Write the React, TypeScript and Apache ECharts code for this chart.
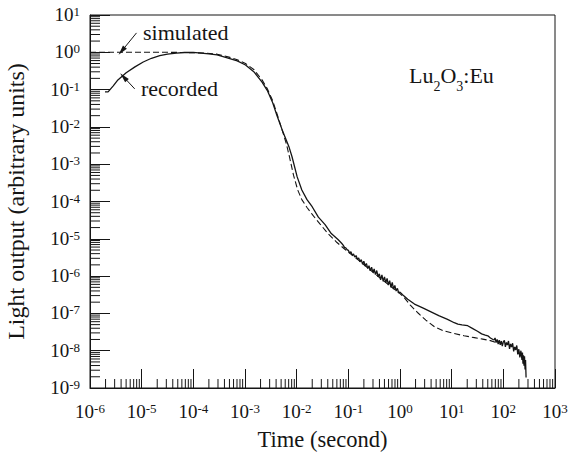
import React, { useEffect, useRef } from 'react';
import * as echarts from 'echarts';

const FONT = 'Liberation Serif';
const INK = '#151515';

// Axis decades (exponents of 10) used as tick labels
const xExponents = [-6, -5, -4, -3, -2, -1, 0, 1, 2, 3];
const yExponents = [-9, -8, -7, -6, -5, -4, -3, -2, -1, 0, 1];
const minorMultipliers = [2, 3, 4, 5, 6, 7, 8, 9];

// Recorded light output: log10(time / s) and log10(output)
const recordedLogTime = [
  -5.71, -5.65, -5.55, -5.46, -5.30, -5.13, -4.97, -4.81, -4.65, -4.50, -4.33, -4.17, -4.00,
  -3.85, -3.70, -3.54, -3.31, -3.15, -2.99, -2.83, -2.67, -2.57, -2.47, -2.38, -2.28, -2.15,
  -2.09, -1.99, -1.90, -1.80, -1.70, -1.58, -1.45, -1.33, -1.20, -1.13,
  -1.10, -1.075, -1.05, -1.025, -1.00, -0.975, -0.95, -0.925, -0.90, -0.875, -0.85, -0.825,
  -0.80, -0.775, -0.75, -0.725, -0.70, -0.675, -0.65, -0.625, -0.60, -0.575, -0.55, -0.525,
  -0.50, -0.475, -0.45, -0.425, -0.40, -0.375, -0.35, -0.325, -0.30, -0.275, -0.25, -0.225,
  -0.20, -0.175, -0.15, -0.125, -0.10, -0.075, -0.05, -0.025, 0.00,
  0.05, 0.15, 0.28, 0.45, 0.60, 0.75, 0.92, 1.05, 1.12, 1.20, 1.31, 1.40, 1.50, 1.58, 1.65,
  1.70, 1.75, 1.80,
  1.82, 1.84, 1.86, 1.88, 1.90, 1.92, 1.94, 1.96, 1.98, 2.00, 2.02, 2.04, 2.06, 2.08, 2.10,
  2.12, 2.14, 2.16, 2.18, 2.20, 2.22, 2.24, 2.26, 2.28, 2.30, 2.32, 2.34, 2.36, 2.37, 2.38,
  2.39, 2.40, 2.41, 2.42, 2.43, 2.44,
];
const recordedLogOutput = [
  -1.06, -1.06, -0.90, -0.74, -0.55, -0.39, -0.26, -0.16, -0.09, -0.05, -0.02, -0.005, 0.0,
  -0.02, -0.04, -0.07, -0.16, -0.23, -0.34, -0.52, -0.80, -1.02, -1.33, -1.70, -2.08, -2.53,
  -2.80, -3.34, -3.69, -3.95, -4.14, -4.42, -4.62, -4.86, -5.02, -5.12,
  -5.17, -5.23, -5.24, -5.29, -5.31, -5.38, -5.35, -5.44, -5.41, -5.49, -5.45, -5.55,
  -5.51, -5.62, -5.56, -5.68, -5.60, -5.73, -5.66, -5.80, -5.72, -5.86, -5.76, -5.90,
  -5.81, -5.96, -5.85, -6.02, -5.94, -6.10, -5.97, -6.14, -6.02, -6.18, -6.06, -6.24,
  -6.12, -6.30, -6.17, -6.35, -6.25, -6.40, -6.33, -6.45, -6.43,
  -6.50, -6.62, -6.75, -6.86, -6.96, -7.06, -7.16, -7.25, -7.29, -7.31, -7.33, -7.40, -7.48,
  -7.55, -7.58, -7.60, -7.66, -7.70,
  -7.71, -7.66, -7.78, -7.70, -7.82, -7.72, -7.84, -7.74, -7.88, -7.76, -7.72, -7.90, -7.78,
  -7.85, -7.74, -7.95, -7.82, -7.90, -7.80, -8.02, -7.90, -7.98, -7.86, -8.10, -7.96, -8.18,
  -8.00, -8.25, -8.05, -8.35, -8.12, -8.40, -8.15, -8.50, -8.25, -8.72,
];

// Simulated light output
const simulatedLogTime = [
  -6.0, -5.0, -4.5, -4.2, -4.0, -3.8, -3.54, -3.31, -3.15, -2.99, -2.83, -2.67, -2.57, -2.47,
  -2.38, -2.30, -2.20, -2.14, -2.06, -1.98, -1.90, -1.80, -1.68, -1.55, -1.40, -1.22, -1.05,
  -0.85, -0.65, -0.45, -0.25, -0.10, 0.0, 0.09, 0.20, 0.35, 0.50, 0.67, 0.85, 1.05, 1.24,
  1.44, 1.60, 1.75, 1.88,
];
const simulatedLogOutput = [
  0, 0, 0, -0.005, -0.01, -0.02, -0.05, -0.13, -0.20, -0.30, -0.46, -0.74, -0.97, -1.28,
  -1.65, -2.00, -2.45, -2.80, -3.30, -3.69, -3.95, -4.16, -4.38, -4.60, -4.85, -5.10, -5.30,
  -5.52, -5.75, -5.98, -6.20, -6.36, -6.47, -6.59, -6.78, -6.99, -7.18, -7.36, -7.47, -7.54,
  -7.60, -7.65, -7.69, -7.73, -7.79,
];

// Annotation arrows (tail -> head), in log10 data units
const simulatedArrow = [[-5.10, 0.52], [-5.385, 0.035]];
const recordedArrow = [[-5.135, -0.98], [-5.35, -0.66]];

const zip = (a: number[], b: number[]) => a.map((v, i) => [v, b[i]]);

export default function App() {
  const ref = useRef<HTMLDivElement>(null);
  useEffect(() => {
    const chart = echarts.init(ref.current!, null, { renderer: 'svg' });
    const xMin = xExponents[0];
    const xMax = xExponents[xExponents.length - 1];
    const yMin = yExponents[0];
    const yMax = yExponents[yExponents.length - 1];

    const xMinor: number[][] = [];
    for (let d = xMin; d < xMax; d++) {
      minorMultipliers.forEach((k) => xMinor.push([d + Math.log10(k), yMin]));
    }
    const yMinor: number[][] = [];
    for (let d = yMin; d < yMax; d++) {
      minorMultipliers.forEach((k) => yMinor.push([xMin, d + Math.log10(k)]));
    }

    const labelRich = {
      b: { fontSize: 19, fontFamily: FONT, color: INK, lineHeight: 20, verticalAlign: 'top' },
      s: { fontSize: 13, fontFamily: FONT, color: INK, lineHeight: 12, verticalAlign: 'top' },
    };

    const tickSeries = (data: number[][], horizontal: boolean, len: number) => ({
      type: 'custom',
      silent: true,
      z: 5,
      data,
      renderItem: (_p: any, api: any) => {
        const p = api.coord([api.value(0), api.value(1)]);
        return {
          type: 'line',
          shape: horizontal
            ? { x1: p[0], y1: p[1], x2: p[0] + len, y2: p[1] }
            : { x1: p[0], y1: p[1], x2: p[0], y2: p[1] - len },
          style: { stroke: INK, lineWidth: 1 },
        };
      },
    });

    const option = {
      animation: false,
      backgroundColor: '#fff',
      textStyle: { fontFamily: FONT },
      grid: {
        left: 90, right: 13, top: 15, bottom: 72,
        show: true, borderColor: INK, borderWidth: 1,
        containLabel: false, outerBoundsMode: 'none',
      },
      xAxis: {
        type: 'value',
        min: xMin,
        max: xMax,
        interval: 1,
        splitLine: { show: false },
        axisLine: { show: true, onZero: false, lineStyle: { color: INK, width: 1 } },
        axisTick: { show: true, inside: true, length: 19, lineStyle: { color: INK, width: 1 } },
        axisLabel: {
          margin: 14,
          fontFamily: FONT,
          formatter: (v: number) => `{b|10}{s|${v}}`,
          rich: labelRich,
        },
        name: 'Time (second)',
        nameLocation: 'middle',
        nameGap: 40,
        nameTextStyle: { fontFamily: FONT, fontSize: 22.5, color: INK },
      },
      yAxis: {
        type: 'value',
        min: yMin,
        max: yMax,
        interval: 1,
        splitLine: { show: false },
        axisLine: { show: true, onZero: false, lineStyle: { color: INK, width: 1 } },
        axisTick: { show: true, inside: true, length: 20, lineStyle: { color: INK, width: 1 } },
        axisLabel: {
          margin: 10,
          fontFamily: FONT,
          formatter: (v: number) => `{b|10}{s|${v}}`,
          rich: labelRich,
        },
        name: 'Light output (arbitrary units)',
        nameLocation: 'middle',
        nameGap: 62,
        nameTextStyle: { fontFamily: FONT, fontSize: 24, color: INK },
      },
      series: [
        {
          name: 'simulated',
          type: 'line',
          data: zip(simulatedLogTime, simulatedLogOutput),
          symbol: 'none',
          smooth: false,
          lineStyle: { color: INK, width: 1.1, type: [6, 3] },
          z: 2,
        },
        {
          name: 'recorded',
          type: 'line',
          data: zip(recordedLogTime, recordedLogOutput),
          symbol: 'none',
          lineStyle: { color: INK, width: 1.3 },
          z: 3,
          markLine: {
            silent: true,
            animation: false,
            symbol: ['none', 'triangle'],
            lineStyle: { color: INK, width: 1, type: 'solid' },
            label: { show: false },
            emphasis: { disabled: true },
            data: [simulatedArrow, recordedArrow].map((arr) => [
              { coord: arr[0], symbol: 'none' },
              { coord: arr[1], symbol: 'triangle', symbolSize: [5, 10], itemStyle: { color: INK } },
            ]),
          },
        },
        tickSeries(xMinor, false, 9),
        tickSeries(yMinor, true, 10),
      ],
      graphic: [
        {
          type: 'text',
          x: 143,
          y: 32,
          silent: true,
          style: { text: 'simulated', fontSize: 22, fontFamily: FONT, fill: INK, verticalAlign: 'middle' },
        },
        {
          type: 'text',
          x: 141,
          y: 88,
          silent: true,
          style: { text: 'recorded', fontSize: 22, fontFamily: FONT, fill: INK, verticalAlign: 'middle' },
        },
        {
          type: 'text',
          x: 409,
          y: 64,
          silent: true,
          style: {
            text: '{a|Lu}{u|2}{a|O}{u|3}{a|:Eu}',
            verticalAlign: 'top',
            rich: {
              a: { fontSize: 22, fontFamily: FONT, fill: INK, color: INK, lineHeight: 22, verticalAlign: 'top' },
              u: { fontSize: 14, fontFamily: FONT, fill: INK, color: INK, lineHeight: 14, verticalAlign: 'top', padding: [15, 0, 0, 0] },
            },
          },
        },
      ],
    };
    chart.setOption(option as any);
    return () => chart.dispose();
  }, []);
  return <div ref={ref} style={{ position: 'fixed', left: 0, top: 0, width: 568, height: 460 }} />;
}
